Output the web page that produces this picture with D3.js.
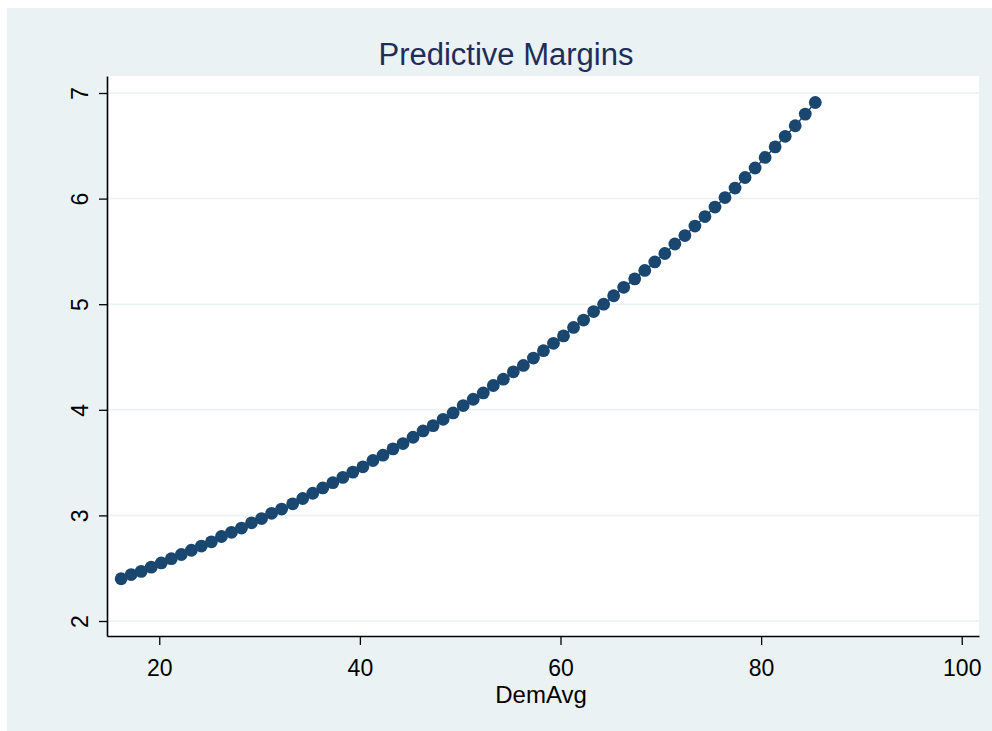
<!DOCTYPE html>
<html>
<head>
<meta charset="utf-8">
<script src="https://cdn.jsdelivr.net/npm/d3@7"></script>
<style>
  html, body { margin: 0; padding: 0; background: #ffffff; }
  svg { display: block; }
  text { font-family: Arial, "Liberation Sans", Helvetica, sans-serif; }
</style>
</head>
<body>
<svg id="chart" width="992" height="731"></svg>
<script>
// Predictive margins of the outcome over DemAvg
const demAvg = [
  16.2, 17.2, 18.2, 19.2, 20.2, 21.2, 22.2, 23.2, 24.2, 25.2,
  26.2, 27.2, 28.2, 29.2, 30.2, 31.2, 32.2, 33.3, 34.3, 35.3,
  36.3, 37.3, 38.3, 39.3, 40.3, 41.3, 42.3, 43.3, 44.3, 45.3,
  46.3, 47.3, 48.3, 49.3, 50.3, 51.3, 52.3, 53.3, 54.3, 55.3,
  56.3, 57.3, 58.3, 59.3, 60.3, 61.3, 62.3, 63.3, 64.3, 65.3,
  66.3, 67.4, 68.4, 69.4, 70.4, 71.4, 72.4, 73.4, 74.4, 75.4,
  76.4, 77.4, 78.4, 79.4, 80.4, 81.4, 82.4, 83.4, 84.4, 85.4
];
const margin = [
  2.40, 2.44, 2.47, 2.51, 2.55, 2.59, 2.63, 2.67, 2.71, 2.75,
  2.80, 2.84, 2.88, 2.93, 2.97, 3.02, 3.06, 3.11, 3.16, 3.21,
  3.26, 3.31, 3.36, 3.41, 3.46, 3.52, 3.57, 3.63, 3.68, 3.74,
  3.80, 3.85, 3.91, 3.97, 4.04, 4.10, 4.16, 4.23, 4.29, 4.36,
  4.42, 4.49, 4.56, 4.63, 4.70, 4.78, 4.85, 4.93, 5.00, 5.08,
  5.16, 5.24, 5.32, 5.40, 5.48, 5.57, 5.65, 5.74, 5.83, 5.92,
  6.01, 6.10, 6.20, 6.29, 6.39, 6.49, 6.59, 6.69, 6.80, 6.91
];
const xTicks = [20, 40, 60, 80, 100];
const yTicks = [2, 3, 4, 5, 6, 7];
const titleText = "Predictive Margins";
const xTitle = "DemAvg";

const points = demAvg.map((d, i) => ({ x: d, y: margin[i] }));

const svg = d3.select("#chart");
const plot = { left: 107, right: 979, top: 76, bottom: 636 };

const x = d3.scaleLinear().domain([14.79, 101.72]).range([plot.left, plot.right]);
const y = d3.scaleLinear().domain([1.858, 7.161]).range([plot.bottom, plot.top]);

// graph background and plot region
svg.append("rect").attr("x", 7).attr("y", 8).attr("width", 985).attr("height", 723)
  .attr("fill", "#eaf2f3");
svg.append("rect").attr("x", plot.left).attr("y", plot.top)
  .attr("width", plot.right - plot.left).attr("height", plot.bottom - plot.top)
  .attr("fill", "#ffffff");

// horizontal grid lines
svg.append("g").selectAll("line").data(yTicks).join("line")
  .attr("x1", plot.left).attr("x2", plot.right)
  .attr("y1", d => y(d)).attr("y2", d => y(d))
  .attr("stroke", "#eaf2f3").attr("stroke-width", 1.5);

// connected series
svg.append("path").datum(points)
  .attr("d", d3.line().x(d => x(d.x)).y(d => y(d.y)))
  .attr("fill", "none").attr("stroke", "#1a476f").attr("stroke-width", 1.5);

svg.append("g").selectAll("circle").data(points).join("circle")
  .attr("cx", d => x(d.x)).attr("cy", d => y(d.y)).attr("r", 6.4)
  .attr("fill", "#1a476f");

// x axis
const gx = svg.append("g").attr("transform", `translate(0,${plot.bottom})`)
  .call(d3.axisBottom(x).tickValues(xTicks).tickFormat(d3.format("d"))
    .tickSize(9).tickSizeOuter(0));
gx.select(".domain").attr("stroke", "#000").attr("stroke-width", 1.6);
gx.selectAll(".tick line").attr("stroke", "#000").attr("stroke-width", 1.3);
gx.selectAll(".tick text").attr("y", 40).attr("dy", 0)
  .attr("font-size", 23).attr("fill", "#000");

// y axis with rotated labels
const gy = svg.append("g").attr("transform", `translate(${plot.left},0)`)
  .call(d3.axisLeft(y).tickValues(yTicks).tickFormat(d3.format("d"))
    .tickSize(8).tickSizeOuter(0));
gy.select(".domain").attr("stroke", "#000").attr("stroke-width", 1.6);
gy.selectAll(".tick line").attr("stroke", "#000").attr("stroke-width", 1.3);
gy.selectAll(".tick text")
  .attr("x", null).attr("dy", 0)
  .attr("transform", "translate(-19,0) rotate(-90)")
  .attr("text-anchor", "middle")
  .attr("font-size", 23).attr("fill", "#000");

// titles
svg.append("text").attr("x", 506).attr("y", 65).attr("text-anchor", "middle")
  .attr("font-size", 31).attr("fill", "#1e2d5a").text(titleText);
svg.append("text").attr("x", 541).attr("y", 703).attr("text-anchor", "middle")
  .attr("font-size", 24).attr("fill", "#000").text(xTitle);
</script>
</body>
</html>
